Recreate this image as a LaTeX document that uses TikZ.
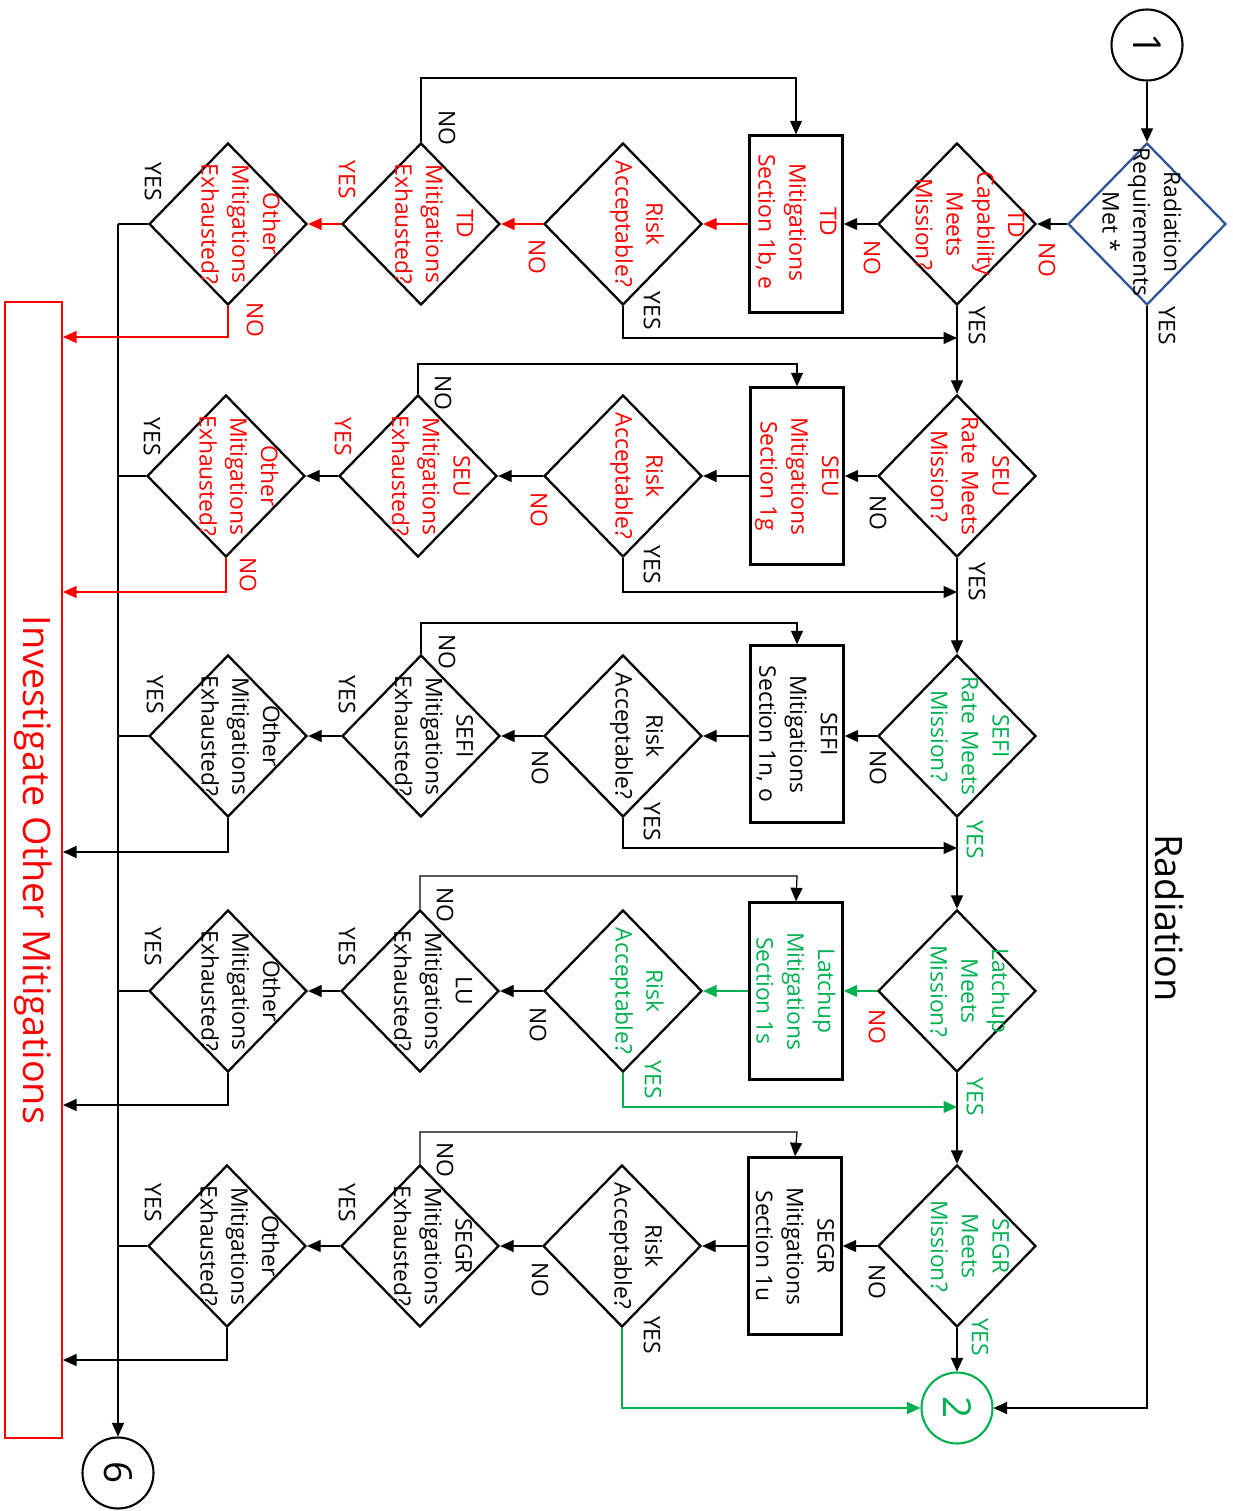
\documentclass[tikz,border=0pt]{standalone}
\usepackage{fontspec}
\setmainfont{Open Sans}
\usetikzlibrary{shapes.geometric,arrows.meta}
\definecolor{myred}{RGB}{255,0,0}
\definecolor{mygreen}{RGB}{0,176,80}
\definecolor{myblue}{RGB}{47,85,151}
\begin{document}
\begin{tikzpicture}[x=0.02cm,y=-0.02cm,
  txt/.style={font=\fontsize{13}{17.5}\selectfont, align=center, inner sep=0pt, rotate=-90},
  lbl/.style={font=\fontsize{13}{15}\selectfont, inner sep=0pt, rotate=-90},
  big/.style={font=\fontsize{21.5}{24}\selectfont, inner sep=0pt, rotate=-90},
  dia/.style={diamond, draw, line width=1.3pt, minimum width=3.16cm, minimum height=3.24cm, inner sep=0pt},
  box/.style={rectangle, draw, line width=1.4pt, minimum width=1.86cm, minimum height=3.54cm, inner sep=0pt},
  circ/.style={circle, draw, line width=1.2pt, minimum size=1.42cm, inner sep=0pt},
  num/.style={font=\fontsize{22}{24}\selectfont, inner sep=0pt, rotate=-90},
  conn/.style={line width=0.7pt},
  arr/.style={conn, -{Triangle[length=0.27cm,width=0.24cm]}},
]
\useasboundingbox (0,0) rectangle (1233,1511);

% ---------- top, side and bottom elements
\node[circ] (c1) at (1147,45) {};
\node[num] (c1t) at (1147,45) {1};
\node[dia, draw=myblue] (rad) at (1147,224) {};
\node[txt] (radt) at (1142,222) {Radiation\\Requirements\\Met *};
\node[big] (radlbl) at (1170,918) {Radiation};

\node[rectangle, draw=myred, line width=1.2pt, minimum width=1.14cm, minimum height=22.72cm, inner sep=0pt] (inv) at (33.5,870) {};
\node[big, myred] (invt) at (33,870) {Investigate Other Mitigations};

\node[circ, draw=mygreen] (c2) at (957,1408) {};
\node[num, mygreen] (c2t) at (957,1408) {2};
\node[circ] (c6) at (118,1473) {};
\node[num] (c6t) at (118,1473) {6};

% ---------- row 1 : TD
\node[dia] (d1) at (957,224) {};
\node[txt, myred] (d1t) at (970,224) {TD\\Capability\\Meets\\Mission?};
\node[box] (b1) at (796,224) {};
\node[txt, myred] (b1t) at (796,222) {TD\\Mitigations\\Section 1b, e};
\node[dia] (r1) at (623,224) {};
\node[txt, myred] (r1t) at (637,224) {Risk\\Acceptable?};
\node[dia] (e1) at (421,224) {};
\node[txt, myred] (e1t) at (434,224) {TD\\Mitigations\\Exhausted?};
\node[dia] (o1) at (228,224) {};
\node[txt, myred] (o1t) at (241,224) {Other\\Mitigations\\Exhausted?};

% ---------- row 2 : SEU
\node[dia] (d2) at (957,476) {};
\node[txt, myred] (d2t) at (970,476) {SEU\\Rate Meets\\Mission?};
\node[box] (b2) at (797,476) {};
\node[txt, myred] (b2t) at (797,476) {SEU\\Mitigations\\Section 1g};
\node[dia] (r2) at (623,476) {};
\node[txt, myred] (r2t) at (637,476) {Risk\\Acceptable?};
\node[dia] (e2) at (418,476) {};
\node[txt, myred] (e2t) at (431,476) {SEU\\Mitigations\\Exhausted?};
\node[dia] (o2) at (226,476) {};
\node[txt, myred] (o2t) at (239,476) {Other\\Mitigations\\Exhausted?};

% ---------- row 3 : SEFI
\node[dia] (d3) at (957,736) {};
\node[txt, mygreen] (d3t) at (970,736) {SEFI\\Rate Meets\\Mission?};
\node[box] (b3) at (797,734) {};
\node[txt] (b3t) at (797,734) {SEFI\\Mitigations\\Section 1n, o};
\node[dia] (r3) at (623,736) {};
\node[txt] (r3t) at (637,736) {Risk\\Acceptable?};
\node[dia] (e3) at (421,736) {};
\node[txt] (e3t) at (434,736) {SEFI\\Mitigations\\Exhausted?};
\node[dia] (o3) at (228,736) {};
\node[txt] (o3t) at (241,736) {Other\\Mitigations\\Exhausted?};

% ---------- row 4 : Latchup
\node[dia] (d4) at (957,991) {};
\node[txt, mygreen] (d4t) at (970,991) {Latchup\\Meets\\Mission?};
\node[box] (b4) at (796,991) {};
\node[txt, mygreen] (b4t) at (796,991) {Latchup\\Mitigations\\Section 1s};
\node[dia] (r4) at (623,991) {};
\node[txt, mygreen] (r4t) at (637,991) {Risk\\Acceptable?};
\node[dia] (e4) at (420,991) {};
\node[txt] (e4t) at (433,991) {LU\\Mitigations\\Exhausted?};
\node[dia] (o4) at (228,991) {};
\node[txt] (o4t) at (241,991) {Other\\Mitigations\\Exhausted?};

% ---------- row 5 : SEGR
\node[dia] (d5) at (957,1246) {};
\node[txt, mygreen] (d5t) at (970,1246) {SEGR\\Meets\\Mission?};
\node[box] (b5) at (795,1246) {};
\node[txt] (b5t) at (795,1246) {SEGR\\Mitigations\\Section 1u};
\node[dia] (r5) at (622,1246) {};
\node[txt] (r5t) at (636,1246) {Risk\\Acceptable?};
\node[dia] (e5) at (420,1246) {};
\node[txt] (e5t) at (433,1246) {SEGR\\Mitigations\\Exhausted?};
\node[dia] (o5) at (227,1246) {};
\node[txt] (o5t) at (240,1246) {Other\\Mitigations\\Exhausted?};

% ---------- coordinates
\coordinate (k1) at (796,78);
\coordinate (k2) at (797,364);
\coordinate (k3) at (797,623);
\coordinate (k4) at (797,876);
\coordinate (k5) at (797,1132);
\coordinate (j1) at (957,338);
\coordinate (j2) at (957,592);
\coordinate (j3) at (957,848);
\coordinate (j4) at (957,1107);
\coordinate (bus) at (118,224);

% ---------- connectors: top
\draw[arr] (c1.south) -- (rad.north);
\draw[arr] (rad.west) -- (d1.east);
\draw[arr] (rad.south) |- (c2.east);
\draw[arr] (bus) -- (c6.north);

% row 1
\draw[arr] (d1.west) -- (b1.east);
\draw[arr, myred] (b1.west) -- (r1.east);
\draw[arr, myred] (r1.west) -- (e1.east);
\draw[arr, myred] (e1.west) -- (o1.east);
\draw[arr] (e1.north) |- (k1) -- (b1.north);
\draw[arr] (r1.south) |- (j1);
\draw[conn] (o1.west) -- (bus);
\draw[arr, myred] (o1.south) |- (inv.east |- 0,337);
\draw[arr] (d1.south) -- (d2.north);

% row 2
\draw[arr] (d2.west) -- (b2.east);
\draw[arr] (b2.west) -- (r2.east);
\draw[arr] (r2.west) -- (e2.east);
\draw[arr] (e2.west) -- (o2.east);
\draw[arr] (e2.north) |- (k2) -- (b2.north);
\draw[arr] (r2.south) |- (j2);
\draw[conn] (o2.west) -- (bus |- o2.west);
\draw[arr, myred] (o2.south) |- (inv.east |- 0,592);
\draw[arr] (d2.south) -- (d3.north);

% row 3
\draw[arr] (d3.west) -- (b3.east |- d3.west);
\draw[arr] (b3.west |- r3.east) -- (r3.east);
\draw[arr] (r3.west) -- (e3.east);
\draw[arr] (e3.west) -- (o3.east);
\draw[arr] (e3.north) |- (k3) -- (b3.north);
\draw[arr] (r3.south) |- (j3);
\draw[conn] (o3.west) -- (bus |- o3.west);
\draw[arr] (o3.south) |- (inv.east |- 0,852);
\draw[arr] (d3.south) -- (d4.north);

% row 4
\draw[arr, mygreen] (d4.west) -- (b4.east);
\draw[arr, mygreen] (b4.west) -- (r4.east);
\draw[arr] (r4.west) -- (e4.east);
\draw[arr] (e4.west) -- (o4.east);
\draw[arr] (e4.north) |- (k4) -- (b4.north);
\draw[arr, mygreen] (r4.south) |- (j4);
\draw[conn] (o4.west) -- (bus |- o4.west);
\draw[arr] (o4.south) |- (inv.east |- 0,1105);
\draw[arr] (d4.south) -- (d5.north);

% row 5
\draw[arr] (d5.west) -- (b5.east);
\draw[arr] (b5.west) -- (r5.east);
\draw[arr] (r5.west) -- (e5.east);
\draw[arr] (e5.west) -- (o5.east);
\draw[arr] (e5.north) |- (k5) -- (b5.north);
\draw[arr, mygreen] (r5.south) |- (c2.west);
\draw[conn] (o5.west) -- (bus |- o5.west);
\draw[arr] (o5.south) |- (inv.east |- 0,1360);
\draw[arr] (d5.south) -- (c2.north);

% ---------- YES / NO labels
\node[lbl] (yrad) at (1167,326) {YES};
\node[lbl, myred] (nrad) at (1047,260) {NO};
% row 1
\node[lbl, myred] (n1a) at (872,258) {NO};
\node[lbl] (y1a) at (977,326) {YES};
\node[lbl, myred] (n1b) at (537,257) {NO};
\node[lbl] (y1b) at (652,311) {YES};
\node[lbl] (n1c) at (447,128) {NO};
\node[lbl, myred] (y1c) at (347,180) {YES};
\node[lbl] (y1d) at (153,182) {YES};
\node[lbl, myred] (n1d) at (255,320) {NO};
% row 2
\node[lbl] (n2a) at (878,513) {NO};
\node[lbl] (y2a) at (977,582) {YES};
\node[lbl, myred] (n2b) at (539,510) {NO};
\node[lbl] (y2b) at (652,565) {YES};
\node[lbl] (n2c) at (443,393) {NO};
\node[lbl, myred] (y2c) at (343,437) {YES};
\node[lbl] (y2d) at (152,437) {YES};
\node[lbl, myred] (n2d) at (248,575) {NO};
% row 3
\node[lbl] (n3a) at (878,768) {NO};
\node[lbl, mygreen] (y3a) at (975,840) {YES};
\node[lbl] (n3b) at (540,768) {NO};
\node[lbl] (y3b) at (652,822) {YES};
\node[lbl] (n3c) at (447,652) {NO};
\node[lbl] (y3c) at (347,695) {YES};
\node[lbl] (y3d) at (155,695) {YES};
% row 4
\node[lbl, myred] (n4a) at (877,1027) {NO};
\node[lbl, mygreen] (y4a) at (975,1097) {YES};
\node[lbl] (n4b) at (538,1025) {NO};
\node[lbl, mygreen] (y4b) at (653,1080) {YES};
\node[lbl] (n4c) at (445,905) {NO};
\node[lbl] (y4c) at (347,947) {YES};
\node[lbl] (y4d) at (153,947) {YES};
% row 5
\node[lbl] (n5a) at (877,1282) {NO};
\node[lbl, mygreen] (y5a) at (980,1337) {YES};
\node[lbl] (n5b) at (540,1280) {NO};
\node[lbl] (y5b) at (652,1335) {YES};
\node[lbl] (n5c) at (445,1160) {NO};
\node[lbl] (y5c) at (347,1203) {YES};
\node[lbl] (y5d) at (153,1203) {YES};
\end{tikzpicture}
\end{document}
